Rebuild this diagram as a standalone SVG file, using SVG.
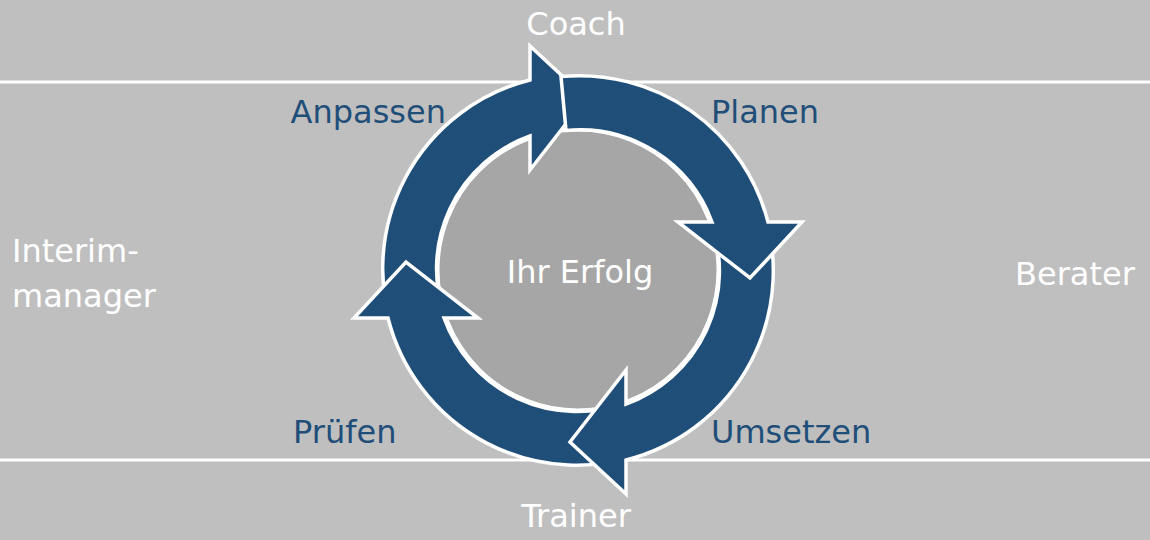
<svg xmlns="http://www.w3.org/2000/svg" width="1150" height="540" viewBox="0 0 1150 540">
<defs>
<style>
.a{fill:#1f4e79;stroke:#fff;stroke-width:3.5;stroke-linejoin:miter}
.t{font-family:"DejaVu Sans",sans-serif;font-size:32px}
.w{fill:#fff}.b{fill:#1f4e79}
</style>
<path id="longArrow" d="M511.3,86.8 A195,195 0 0 1 768,222 L802,222 L750,278 L678,222 L712,222 A141,141 0 0 0 529.8,137.5 Z"/>
</defs>
<rect width="1150" height="540" fill="#bfbfbf"/>
<line x1="0" y1="82" x2="1150" y2="82" stroke="#fff" stroke-width="3"/>
<line x1="0" y1="460" x2="1150" y2="460" stroke="#fff" stroke-width="3"/>
<g id="center"><circle cx="578" cy="270" r="140" fill="#a6a6a6" stroke="#fff" stroke-width="3"/>
<text class="t w" x="580" y="283" text-anchor="middle">Ihr Erfolg</text></g>
<g id="connectors">
<use href="#longArrow" class="a" transform="rotate(270 578 270)"/>
<use href="#longArrow" class="a" transform="rotate(180 578 270)"/>
<use href="#longArrow" class="a" transform="rotate(90 578 270)"/>
<path class="a" d="M561,76.5 A195,195 0 0 1 768,222 L802,222 L750,278 L678,222 L712,222 A141,141 0 0 0 566,130.5 Z"/>
</g>
<g id="coach"><text class="t w" x="576" y="35" text-anchor="middle">Coach</text></g>
<g id="trainer"><text class="t w" x="576" y="527" text-anchor="middle">Trainer</text></g>
<g id="interim"><text class="t w" x="12" y="262">Interim-</text><text class="t w" x="12" y="307">manager</text></g>
<g id="berater"><text class="t w" x="1015" y="285">Berater</text></g>
<g id="anpassen"><text class="t b" x="446" y="123" text-anchor="end">Anpassen</text></g>
<g id="planen"><text class="t b" x="711" y="123">Planen</text></g>
<g id="pruefen"><text class="t b" x="293" y="443">Prüfen</text></g>
<g id="umsetzen"><text class="t b" x="711" y="443">Umsetzen</text></g>
</svg>
